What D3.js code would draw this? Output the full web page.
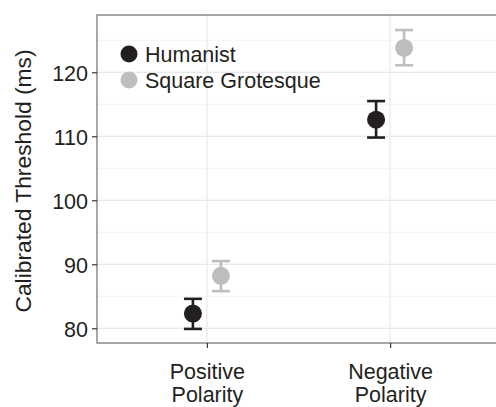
<!DOCTYPE html>
<html>
<head>
<meta charset="utf-8">
<script src="https://cdn.jsdelivr.net/npm/d3@7"></script>
<style>
  body { margin: 0; background: #fff; }
  text { font-family: "Liberation Sans", Arial, sans-serif; fill: #231f20; }
</style>
</head>
<body>
<script>
// chart data
let conditions = ["Positive Polarity", "Negative Polarity"];
let fonts = ["Humanist", "Square Grotesque"];
let means = [[82.3, 88.2], [112.6, 123.8]];     // [condition][font]
let lower = [[79.9, 85.8], [109.8, 121.1]];
let upper = [[84.6, 90.5], [115.5, 126.6]];
let yTicks = [80, 90, 100, 110, 120];
let yMinor = [85, 95, 105, 115, 125];

let colors = {"Humanist": "#231f20", "Square Grotesque": "#bcbec0"};

let width = 496, height = 407;
let margin = {top: 15, right: -4, bottom: 64, left: 97};
let innerW = width - margin.left - margin.right;
let innerH = height - margin.top - margin.bottom;

let svg = d3.select("body").append("svg")
    .attr("width", width)
    .attr("height", height);

let g = svg.append("g")
    .attr("transform", "translate(" + margin.left + "," + margin.top + ")");

// discrete x with ggplot-like expansion
let xScale = d3.scalePoint()
    .domain(conditions)
    .range([0, innerW])
    .padding(0.6);

let dodge = d3.scalePoint().domain(fonts).range([-14, 14]);

let yScale = d3.scaleLinear()
    .domain([77.7, 128.95])
    .range([innerH, 0]);

// grid
g.selectAll(".minor").data(yMinor).enter().append("line")
    .attr("x1", 0).attr("x2", innerW)
    .attr("y1", d => yScale(d)).attr("y2", d => yScale(d))
    .attr("stroke", "#f4f4f4").attr("stroke-width", 1);

g.selectAll(".major").data(yTicks).enter().append("line")
    .attr("x1", 0).attr("x2", innerW)
    .attr("y1", d => yScale(d)).attr("y2", d => yScale(d))
    .attr("stroke", "#e8e8e8").attr("stroke-width", 1.2);

g.selectAll(".vgrid").data(conditions).enter().append("line")
    .attr("x1", d => xScale(d)).attr("x2", d => xScale(d))
    .attr("y1", 0).attr("y2", innerH)
    .attr("stroke", "#e8e8e8").attr("stroke-width", 1.2);

// panel border
g.append("rect")
    .attr("x", 0).attr("y", 0)
    .attr("width", innerW).attr("height", innerH)
    .attr("fill", "none")
    .attr("stroke", "#8a8a8a").attr("stroke-width", 1.5);

// axes
let yAxis = g.append("g")
    .call(d3.axisLeft(yScale).tickValues(yTicks).tickSize(5).tickPadding(4));
yAxis.select(".domain").remove();
yAxis.selectAll(".tick line").attr("stroke", "#333").attr("stroke-width", 1.2);
yAxis.selectAll(".tick text")
    .style("font-size", "21.5px").attr("fill", "#231f20").attr("dy", "0.36em");

let xAxis = g.append("g")
    .attr("transform", "translate(0," + innerH + ")")
    .call(d3.axisBottom(xScale).tickSize(5).tickFormat(""));
xAxis.select(".domain").remove();
xAxis.selectAll(".tick line").attr("stroke", "#333").attr("stroke-width", 1.2);

// two-line category labels
xAxis.selectAll(".tick").each(function(d) {
  let words = d.split(" ");
  let t = d3.select(this).append("text")
      .attr("text-anchor", "middle")
      .style("font-size", "21.5px");
  words.forEach(function(w, i) {
    t.append("tspan").attr("x", 0).attr("y", 36 + i * 23).text(w);
  });
});

// y title
svg.append("text")
    .attr("transform", "translate(31," + (margin.top + innerH / 2 + 2) + ") rotate(-90)")
    .attr("text-anchor", "middle")
    .style("font-size", "22.8px")
    .text("Calibrated Threshold (ms)");

// error bars and points
let pts = [];
conditions.forEach(function(c, i) {
  fonts.forEach(function(f, j) {
    pts.push({cond: c, font: f, mean: means[i][j], lo: lower[i][j], hi: upper[i][j]});
  });
});

let grp = g.selectAll(".pt").data(pts).enter().append("g")
    .attr("transform", d => "translate(" + (xScale(d.cond) + dodge(d.font)) + ",0)");

grp.append("line")
    .attr("x1", 0).attr("x2", 0)
    .attr("y1", d => yScale(d.lo)).attr("y2", d => yScale(d.hi))
    .attr("stroke", d => colors[d.font]).attr("stroke-width", 2.6);
grp.append("line")
    .attr("x1", -9).attr("x2", 9)
    .attr("y1", d => yScale(d.lo)).attr("y2", d => yScale(d.lo))
    .attr("stroke", d => colors[d.font]).attr("stroke-width", 2.6);
grp.append("line")
    .attr("x1", -9).attr("x2", 9)
    .attr("y1", d => yScale(d.hi)).attr("y2", d => yScale(d.hi))
    .attr("stroke", d => colors[d.font]).attr("stroke-width", 2.6);
grp.append("circle")
    .attr("cx", 0).attr("cy", d => yScale(d.mean))
    .attr("r", 9)
    .attr("fill", d => colors[d.font]);

// legend
let legend = g.selectAll(".legend").data(fonts).enter().append("g")
    .attr("transform", (d, i) => "translate(32," + (39 + i * 26) + ")");
legend.append("circle").attr("r", 8.5).attr("fill", d => colors[d]);
legend.append("text")
    .attr("x", 16).attr("dy", "0.36em")
    .style("font-size", "21.5px")
    .text(d => d);
</script>
</body>
</html>
